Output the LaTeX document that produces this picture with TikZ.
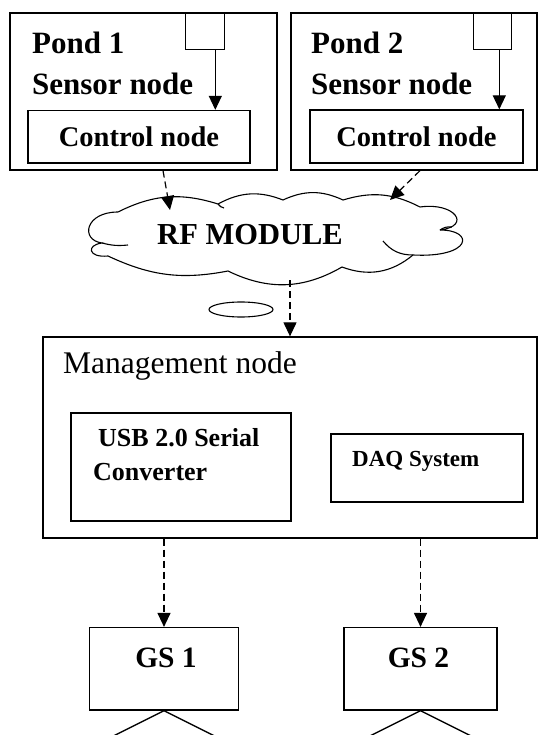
\documentclass[tikz,border=0pt]{standalone}
\usepackage{fontspec}
\setmainfont{Liberation Serif}
\usetikzlibrary{arrows.meta, positioning, shapes.geometric}

\begin{document}
\begin{tikzpicture}[
      x=1pt, y=-1pt,
      box/.style={rectangle, draw, line width=1.3pt, inner sep=0pt},
      lbl/.style={inner sep=0pt, anchor=base west},
      big/.style={font=\fontsize{31}{33}\selectfont\bfseries},
      edge/.style={-{Triangle[length=14pt, width=13pt]}, line width=1.2pt},
      dedge/.style={edge, dash pattern=on 7pt off 4pt},
      puff/.style={line width=1.1pt}
    ]
    \useasboundingbox (0,0) rectangle (538,735);
    \clip (0,0) rectangle (538,735);

    % ponds
    \node[box, minimum width=267pt, minimum height=157pt] (pond1) at (143.5,91.5) {};
    \node[box, minimum width=246pt, minimum height=157pt] (pond2) at (414,91.5) {};
    \node[box, anchor=north west, minimum width=39pt, minimum height=36pt] (sq1) at (185,13) {};
    \node[box, anchor=north west, minimum width=38pt, minimum height=36pt] (sq2) at (473,13) {};
    \node[box, minimum width=222pt, minimum height=52.5pt, font=\fontsize{28.5}{30}\selectfont\bfseries] (ctrl1) at (139,136.75) {Control node};
    \node[box, minimum width=213pt, minimum height=53pt, font=\fontsize{28.5}{30}\selectfont\bfseries] (ctrl2) at (416.5,136.5) {Control node};
    \node[lbl, big] (p1) at (32,54) {Pond 1};
    \node[lbl, big] (s1) at (32,95) {Sensor node};
    \node[lbl, big] (p2) at (311,54) {Pond 2};
    \node[lbl, big] (s2) at (311,95) {Sensor node};
    \draw[edge] ([xshift=-10pt]sq1.south east) -- ([xshift=-10pt]sq1.south east |- ctrl1.north);
    \draw[edge] ([xshift=-13pt]sq2.south east) -- ([xshift=-13pt]sq2.south east |- ctrl2.north);

    % rf module (cloud outline)
    \node[inner sep=0pt, minimum width=370pt, minimum height=87pt] (rf) at (278,236.5) {};
    \draw[puff] (118,212) to[bend left=22] (218,204) to[bend left=25] (283,200)
      to[bend left=25] (343,200) to[bend left=22] (420,207)
      .. controls (455,202) and (472,226) .. (440,230)
      .. controls (475,230) and (472,258) .. (413,255)
      to[bend left=30] (342,267) to[bend left=28] (228,271) to[bend left=18] (108,256)
      .. controls (88,258) and (86,245) .. (102,243)
      .. controls (80,240) and (85,212) .. cycle;
    \draw[puff] (102,243) to[bend right=10] (128,245);
    \draw[puff] (218,204) to[bend right=20] (224,208);
    \draw[puff] (440,230) to[bend left=20] (452,227);
    \draw[puff] (413,255) to[bend left=25] (383,241);
    \node[font=\fontsize{30.5}{32}\selectfont\bfseries] (rftext) at (250,235) {RF MODULE};
    \node[ellipse, draw, line width=1.1pt, minimum width=64pt, minimum height=15pt] (bubble) at (241,309.5) {};
    \draw[dedge] ([xshift=19.5pt]pond1.south) -- ([xshift=-108pt, yshift=26.5pt]rf.center);
    \draw[dedge] ([xshift=6pt]pond2.south) -- ([xshift=112pt, yshift=36.5pt]rf.center);

    % management
    \node[box, minimum width=494pt, minimum height=201pt] (mgmt) at (290,437.5) {};
    \node[lbl, font=\fontsize{31.5}{33}\selectfont] (mtext) at (63,373) {Management node};
    \node[box, minimum width=220pt, minimum height=108pt] (usb) at (181,467) {};
    \node[lbl, font=\fontsize{26}{28}\selectfont\bfseries] (usbtext1) at (98,446) {USB 2.0 Serial};
    \node[lbl, font=\fontsize{26}{28}\selectfont\bfseries] (usbtext2) at (93,480) {Converter};
    \node[box, minimum width=192pt, minimum height=68pt] (daq) at (427,468) {};
    \node[lbl, font=\fontsize{23}{25}\selectfont\bfseries] (daqtext) at (352,466) {DAQ System};
    \draw[dedge] ([xshift=12pt]rf.south) -- ([xshift=12pt]rf.south |- mgmt.north);

    % ground stations
    \node[box, minimum width=148.5pt, minimum height=82.5pt] (gs1) at (164,668.8) {};
    \node[box, minimum width=153pt, minimum height=82.5pt] (gs2) at (420.5,668.8) {};
    \node[font=\fontsize{29.5}{31}\selectfont\bfseries] (gs1text) at ([xshift=2pt, yshift=11pt]gs1.center) {GS 1};
    \node[font=\fontsize{29.5}{31}\selectfont\bfseries] (gs2text) at ([xshift=-2pt, yshift=11pt]gs2.center) {GS 2};
    \draw[dedge] (gs1.north |- mgmt.south) -- (gs1.north);
    \draw[dedge] (gs2.north |- mgmt.south) -- (gs2.north);
    \draw[line width=1.3pt] (gs1.south) ++(-70,35) -- (gs1.south) -- ++(70,35);
    \draw[line width=1.3pt] (gs2.south) ++(-70,35) -- (gs2.south) -- ++(70,35);
\end{tikzpicture}
\end{document}
